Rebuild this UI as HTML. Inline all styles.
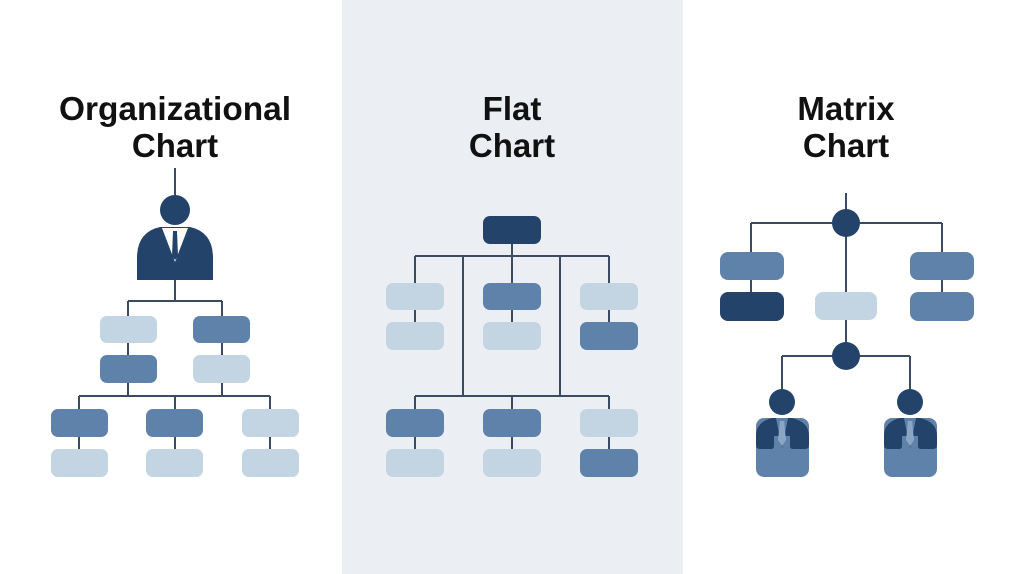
<!DOCTYPE html>
<html><head><meta charset="utf-8"><style>
body{margin:0;width:1024px;height:574px;background:#fff;overflow:hidden}
svg{display:block}
text{font-family:"Liberation Sans",sans-serif;font-weight:bold;font-size:33px;fill:#111}
</style></head><body>
<svg width="1024" height="574" viewBox="0 0 1024 574">
<rect x="342" y="0" width="341" height="574" fill="#ebeff3"/>
<g text-anchor="middle">
<text x="175" y="120" textLength="232" lengthAdjust="spacingAndGlyphs">Organizational</text><text x="175" y="157">Chart</text>
<text x="512" y="120">Flat</text><text x="512" y="157">Chart</text>
<text x="846" y="120">Matrix</text><text x="846" y="157">Chart</text>
</g>
<g stroke="#3b4b62" stroke-width="2" fill="none">
<path d="M175 168V196M175 280V301M128 301H222M128 301V316M222 301V316M128 343V355M222 343V355M128 383V396M222 383V396M79 396H270M79 396V409M175 396V409M270 396V409M79 437V449M175 437V449M270 437V449"/>
<path d="M512 244V256M415 256H609M415 256V283M463 256V396M512 256V283M560 256V396M609 256V283M415 310V322M512 310V322M609 310V322M415 396H609M415 396V409M512 396V409M609 396V409M415 437V449M512 437V449M609 437V449"/>
<path d="M846 193V223M751 223H942M751 223V252M942 223V252M751 280V292M942 280V292M846 223V292M846 320V356M782 356H910M782 356V390M910 356V390"/>
</g>
<circle cx="175" cy="210" r="15" fill="#24436a"/>
<path d="M137 280V258Q137 232 160 227H190Q213 232 213 258V280Z" fill="#24436a"/>
<path d="M162 228L175 262L188 228Z" fill="#fff"/>
<path d="M173 231H177L178 256L175 260L172 256Z" fill="#24436a"/>
<g>
<rect x="100" y="316" width="57" height="27" rx="7" fill="#c3d5e3"/>
<rect x="193" y="316" width="57" height="27" rx="7" fill="#5f82aa"/>
<rect x="100" y="355" width="57" height="28" rx="7" fill="#5f82aa"/>
<rect x="193" y="355" width="57" height="28" rx="7" fill="#c3d5e3"/>
<rect x="51" y="409" width="57" height="28" rx="7" fill="#5f82aa"/>
<rect x="146" y="409" width="57" height="28" rx="7" fill="#5f82aa"/>
<rect x="242" y="409" width="57" height="28" rx="7" fill="#c3d5e3"/>
<rect x="51" y="449" width="57" height="28" rx="7" fill="#c3d5e3"/>
<rect x="146" y="449" width="57" height="28" rx="7" fill="#c3d5e3"/>
<rect x="242" y="449" width="57" height="28" rx="7" fill="#c3d5e3"/>
</g>
<rect x="483" y="216" width="58" height="28" rx="7" fill="#24436a"/>
<rect x="386" y="283" width="58" height="27" rx="7" fill="#c3d5e3"/>
<rect x="483" y="283" width="58" height="27" rx="7" fill="#5f82aa"/>
<rect x="580" y="283" width="58" height="27" rx="7" fill="#c3d5e3"/>
<rect x="386" y="322" width="58" height="28" rx="7" fill="#c3d5e3"/>
<rect x="483" y="322" width="58" height="28" rx="7" fill="#c3d5e3"/>
<rect x="580" y="322" width="58" height="28" rx="7" fill="#5f82aa"/>
<rect x="386" y="409" width="58" height="28" rx="7" fill="#5f82aa"/>
<rect x="483" y="409" width="58" height="28" rx="7" fill="#5f82aa"/>
<rect x="580" y="409" width="58" height="28" rx="7" fill="#c3d5e3"/>
<rect x="386" y="449" width="58" height="28" rx="7" fill="#c3d5e3"/>
<rect x="483" y="449" width="58" height="28" rx="7" fill="#c3d5e3"/>
<rect x="580" y="449" width="58" height="28" rx="7" fill="#5f82aa"/>
<circle cx="846" cy="223" r="14" fill="#24436a"/>
<circle cx="846" cy="356" r="14" fill="#24436a"/>
<rect x="720" y="252" width="64" height="28" rx="8" fill="#5f82aa"/>
<rect x="720" y="292" width="64" height="29" rx="8" fill="#24436a"/>
<rect x="910" y="252" width="64" height="28" rx="8" fill="#5f82aa"/>
<rect x="910" y="292" width="64" height="29" rx="8" fill="#5f82aa"/>
<rect x="815" y="292" width="62" height="28" rx="8" fill="#c3d5e3"/>
<g id="p">
<circle cx="782" cy="402" r="13" fill="#24436a"/>
<rect x="756" y="418" width="53" height="59" rx="8" fill="#5f82aa"/>
<path d="M756 445V436Q756 422 772 418H776L782 448L788 418H792Q809 422 809 436V445Q809 449 805 449H793Q790 449 790 446V436H774V446Q774 449 771 449H760Q756 449 756 445Z" fill="#24436a"/>
<path d="M780 421H784L786 440L782 446L778 440Z" fill="#8aa6c4"/>
</g>
<use href="#p" x="128"/>
</svg>
</body></html>
